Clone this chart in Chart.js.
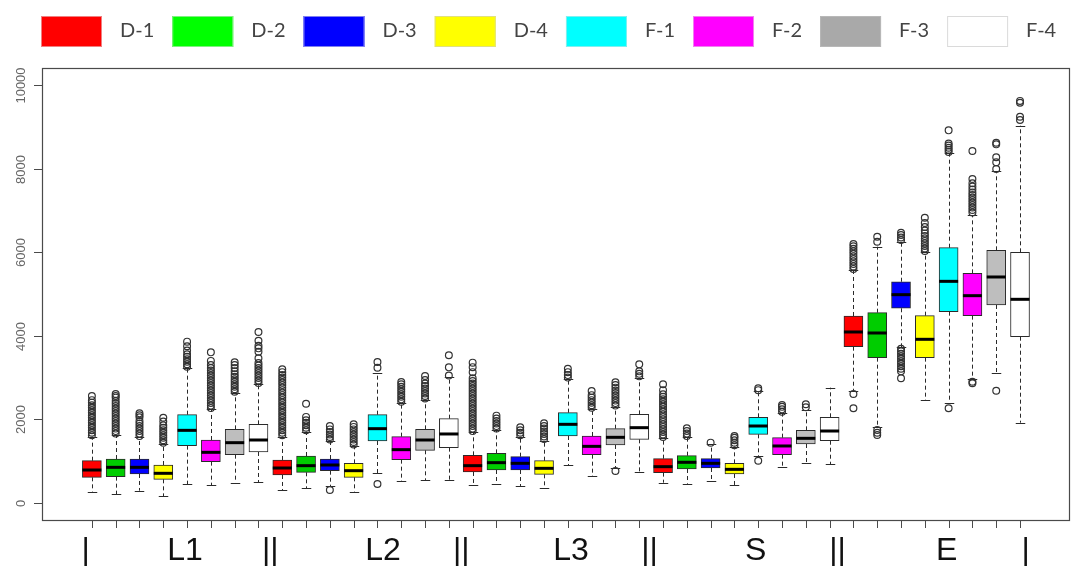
<!DOCTYPE html>
<html>
<head>
<meta charset="utf-8">
<script src="https://cdn.jsdelivr.net/npm/chart.js@4.4.1/dist/chart.umd.min.js"></script>
<style>
  html, body { margin: 0; padding: 0; background: #ffffff; overflow: hidden; }
  canvas { display: block; }
</style>
</head>
<body>
<canvas id="chart" width="1074" height="566"></canvas>
<script>
// ---- data -------------------------------------------------------------
const groups = ['L1', 'L2', 'L3', 'S', 'E'];
const series = ['D-1', 'D-2', 'D-3', 'D-4', 'F-1', 'F-2', 'F-3', 'F-4'];
const yTicks = [0, 2000, 4000, 6000, 8000, 10000];

// five-number summaries, one entry per box (group by group, series order)
const lowerWhisker = [
  270, 215, 295, 167, 447, 423, 486, 502,
  311, 351, 407, 270, 710, 519, 550, 550,
  423, 447, 407, 351, 909, 638, 829, 742,
  486, 462, 526, 423, 1124, 869, 949, 925,
  2687, 1826, 3725, 2464, 2400, 2967, 3102, 1921
];
const q1 = [
  614, 630, 694, 566, 1372, 989, 1156, 1220,
  670, 734, 773, 614, 1483, 1037, 1260, 1324,
  742, 789, 789, 686, 1603, 1156, 1388, 1523,
  726, 813, 837, 694, 1643, 1156, 1411, 1490,
  3739, 3477, 4658, 3477, 4577, 4482, 4737, 3978
];
const median = [
  789, 853, 853, 710, 1738, 1212, 1443, 1507,
  837, 893, 909, 773, 1778, 1276, 1507, 1651,
  893, 965, 949, 829, 1882, 1355, 1571, 1802,
  869, 973, 949, 805, 1842, 1364, 1547, 1722,
  4091, 4067, 4984, 3916, 5303, 4960, 5407, 4873
];
const q3 = [
  1012, 1052, 1052, 909, 2113, 1507, 1762, 1882,
  1029, 1124, 1052, 949, 2113, 1587, 1762, 2018,
  1140, 1188, 1108, 1012, 2161, 1603, 1778, 2121,
  1061, 1132, 1061, 949, 2050, 1563, 1738, 2050,
  4474, 4553, 5294, 4482, 6108, 5494, 6045, 5997
];
const upperWhisker = [
  1587, 1627, 1571, 1404, 3222, 2241, 2624, 2839,
  1587, 1706, 1490, 1371, 3102, 2384, 2464, 3006,
  1690, 1746, 1571, 1491, 2959, 2241, 2289, 2983,
  1547, 1571, 1404, 1347, 2672, 2146, 2225, 2759,
  5574, 6132, 6252, 5997, 8373, 6890, 7943, 9026
];
const outliers = [
  // L1
  [1620, 1680, 1740, 1800, 1860, 1920, 1980, 2040, 2100, 2160, 2220, 2280, 2340, 2400, 2460, 2560],
  [1660, 1720, 1780, 1840, 1900, 1960, 2020, 2080, 2140, 2200, 2260, 2320, 2380, 2440, 2520, 2560, 2608],
  [1600, 1660, 1720, 1780, 1840, 1900, 1960, 2050, 2100, 2145],
  [1440, 1500, 1560, 1620, 1680, 1740, 1800, 1860, 1950, 2041],
  [3260, 3320, 3380, 3440, 3500, 3560, 3650, 3750, 3860],
  [2270, 2330, 2390, 2450, 2510, 2570, 2630, 2690, 2750, 2810, 2870, 2930, 2990, 3050, 3110, 3170, 3230, 3300, 3400, 3604],
  [2660, 2720, 2780, 2840, 2900, 2960, 3020, 3080, 3150, 3230, 3300, 3365],
  [2870, 2930, 2990, 3050, 3110, 3170, 3230, 3290, 3350, 3461, 3620, 3700, 3760, 3883, 4091],
  // L2
  [1620, 1680, 1740, 1800, 1860, 1920, 1980, 2040, 2100, 2160, 2220, 2280, 2340, 2400, 2460, 2520, 2580, 2640, 2700, 2760, 2820, 2880, 2940, 3000, 3060, 3130, 3198],
  [1740, 1800, 1860, 1920, 1980, 2060, 2376],
  [311, 1520, 1580, 1640, 1700, 1760, 1842],
  [1400, 1460, 1520, 1580, 1640, 1700, 1760, 1820, 1882],
  [454, 3237, 3373],
  [2420, 2480, 2540, 2600, 2660, 2720, 2780, 2840, 2895],
  [2500, 2560, 2620, 2680, 2740, 2800, 2860, 2940, 3038],
  [3050, 3245, 3533],
  // L3
  [1720, 1780, 1840, 1900, 1960, 2020, 2080, 2140, 2200, 2260, 2320, 2380, 2440, 2500, 2560, 2620, 2680, 2740, 2800, 2860, 2920, 2983, 3130, 3250, 3357],
  [1780, 1840, 1900, 1960, 2020, 2090],
  [1620, 1680, 1740, 1810],
  [1530, 1590, 1650, 1710, 1780, 1840, 1906],
  [3000, 3060, 3130, 3213],
  [2280, 2340, 2400, 2460, 2520, 2580, 2679],
  [765, 2330, 2390, 2450, 2510, 2570, 2630, 2690, 2760, 2820, 2887],
  [3030, 3090, 3150, 3317],
  // S
  [1580, 1640, 1700, 1760, 1820, 1880, 1940, 2000, 2060, 2120, 2180, 2240, 2300, 2360, 2420, 2480, 2540, 2600, 2700, 2839],
  [1600, 1660, 1720, 1786],
  [1443],
  [1380, 1440, 1500, 1560, 1603],
  [1012, 2700, 2744],
  [2180, 2240, 2300, 2344],
  [2290, 2361],
  [],
  // E
  [2265, 2608, 5600, 5660, 5720, 5780, 5840, 5900, 5960, 6020, 6080, 6140, 6196],
  [1627, 1680, 1746, 6250, 6371],
  [2983, 3150, 3210, 3270, 3330, 3390, 3450, 3510, 3570, 3630, 3690, 6290, 6350, 6410, 6467],
  [6030, 6090, 6150, 6210, 6270, 6330, 6390, 6450, 6520, 6600, 6700, 6826],
  [2265, 8400, 8450, 8500, 8550, 8600, 8915],
  [2864, 2900, 6950, 7010, 7070, 7130, 7190, 7250, 7310, 7370, 7430, 7500, 7570, 7650, 7750, 8421],
  [2687, 7990, 8150, 8270, 8580, 8620],
  [9163, 9242, 9577, 9620]
];

// ---- styling ----------------------------------------------------------
const boxFill = ['#FF0000', '#00CD00', '#0000FF', '#FFFF00', '#00FFFF', '#FF00FF', '#BEBEBE', '#FFFFFF'];
const legendFill = ['#FF0000', '#00FF00', '#0000FF', '#FFFF00', '#00FFFF', '#FF00FF', '#A9A9A9', '#FFFFFF'];
const legendEdge = ['#F08080', '#80F080', '#8080F0', '#E0E080', '#80F0F0', '#F080F0', '#B8B8B8', '#DADADA'];
const INK = '#2a2a2a';
const AXIS = '#4a4a4a';
const BOX_PX = 19;

const nBox = groups.length * series.length;
const boxData = [];
const boxColors = [];
const outlierPoints = [];
for (let i = 0; i < nBox; i++) {
  boxData.push({ x: i + 1, y: [q1[i], q3[i]] });
  boxColors.push(boxFill[i % series.length]);
  outliers[i].forEach(v => outlierPoints.push({ x: i + 1, y: v }));
}

// group captions along the bottom, placed in box-index units
const groupCaptions = [
  { text: '|', at: 0.74 },
  { text: groups[0], at: 4.91 },
  { text: '||', at: 8.5 },
  { text: groups[1], at: 13.23 },
  { text: '||', at: 16.52 },
  { text: groups[2], at: 21.13 },
  { text: '||', at: 24.43 },
  { text: groups[3], at: 28.89 },
  { text: '||', at: 32.33 },
  { text: groups[4], at: 36.92 },
  { text: '|', at: 40.24 }
];

// whiskers behind the boxes, medians on top, frame/axes/legend last
const boxplotParts = {
  id: 'boxplotParts',
  beforeDatasetsDraw(chart) {
    const { ctx, scales: { x, y } } = chart;
    ctx.save();
    ctx.strokeStyle = INK;
    ctx.lineWidth = 1;
    for (let i = 0; i < nBox; i++) {
      const px = Math.round(x.getPixelForValue(i + 1)) + 0.5;
      const yLo = y.getPixelForValue(lowerWhisker[i]);
      const yQ1 = y.getPixelForValue(q1[i]);
      const yQ3 = y.getPixelForValue(q3[i]);
      const yHi = y.getPixelForValue(upperWhisker[i]);
      ctx.setLineDash([4, 3]);
      ctx.beginPath();
      ctx.moveTo(px, yQ3); ctx.lineTo(px, yHi);
      ctx.moveTo(px, yQ1); ctx.lineTo(px, yLo);
      ctx.stroke();
      ctx.setLineDash([]);
      ctx.beginPath();
      const half = BOX_PX / 4;
      ctx.moveTo(px - half, Math.round(yHi) + 0.5); ctx.lineTo(px + half, Math.round(yHi) + 0.5);
      ctx.moveTo(px - half, Math.round(yLo) + 0.5); ctx.lineTo(px + half, Math.round(yLo) + 0.5);
      ctx.stroke();
    }
    ctx.restore();
  },
  afterDatasetsDraw(chart) {
    const { ctx, scales: { x, y } } = chart;
    ctx.save();
    ctx.strokeStyle = '#000000';
    ctx.lineWidth = 3;
    for (let i = 0; i < nBox; i++) {
      const px = x.getPixelForValue(i + 1);
      const py = y.getPixelForValue(median[i]);
      ctx.beginPath();
      ctx.moveTo(px - BOX_PX / 2, py); ctx.lineTo(px + BOX_PX / 2, py);
      ctx.stroke();
    }
    ctx.restore();
  },
  afterDraw(chart) {
    const { ctx, chartArea: a, scales: { x, y } } = chart;
    ctx.save();
    // frame
    ctx.strokeStyle = AXIS;
    ctx.lineWidth = 1.2;
    ctx.strokeRect(Math.round(a.left) + 0.5, Math.round(a.top) + 0.5,
                   Math.round(a.right - a.left), Math.round(a.bottom - a.top));
    // y axis ticks and rotated labels
    ctx.lineWidth = 1;
    ctx.fillStyle = '#666666';
    ctx.font = '13px "Liberation Sans", Arial, sans-serif';
    ctx.textAlign = 'center';
    ctx.textBaseline = 'alphabetic';
    yTicks.forEach(v => {
      const py = Math.round(y.getPixelForValue(v)) + 0.5;
      ctx.beginPath();
      ctx.moveTo(a.left - 8, py); ctx.lineTo(a.left, py);
      ctx.stroke();
      ctx.save();
      ctx.translate(25, py);
      ctx.rotate(-Math.PI / 2);
      ctx.fillText(String(v), 0, 0);
      ctx.restore();
    });
    // x axis ticks, one per box
    for (let i = 0; i < nBox; i++) {
      const px = Math.round(x.getPixelForValue(i + 1)) + 0.5;
      ctx.beginPath();
      ctx.moveTo(px, a.bottom); ctx.lineTo(px, a.bottom + 8);
      ctx.stroke();
    }
    // group captions
    ctx.fillStyle = '#111111';
    ctx.font = '32px "Liberation Sans", Arial, sans-serif';
    ctx.textAlign = 'center';
    groupCaptions.forEach(c => {
      ctx.fillText(c.text, x.getPixelForValue(c.at), 560);
    });
    // legend
    ctx.font = '20px "Lato", "Liberation Sans", sans-serif';
    ctx.textAlign = 'left';
    ctx.textBaseline = 'middle';
    let lx = 41;
    series.forEach((name, k) => {
      ctx.fillStyle = legendFill[k];
      ctx.fillRect(lx, 16, 61, 31);
      ctx.strokeStyle = legendEdge[k];
      ctx.lineWidth = 1;
      ctx.strokeRect(lx + 0.5, 16.5, 60, 30);
      ctx.fillStyle = '#444444';
      ctx.fillText(name, lx + 79, 31);
      lx += 79 + ctx.measureText(name).width + 18;
    });
    ctx.restore();
  }
};

new Chart(document.getElementById('chart'), {
  type: 'bar',
  data: {
    datasets: [
      {
        type: 'bar',
        label: 'boxes',
        data: boxData,
        backgroundColor: boxColors,
        borderColor: INK,
        borderWidth: 1,
        borderSkipped: false,
        barThickness: BOX_PX,
        order: 2
      },
      {
        type: 'scatter',
        label: 'outliers',
        data: outlierPoints,
        pointStyle: 'circle',
        pointRadius: 3.4,
        pointBorderWidth: 1.2,
        pointBorderColor: '#333333',
        pointBackgroundColor: 'rgba(255,255,255,0)',
        order: 1
      }
    ]
  },
  options: {
    responsive: false,
    devicePixelRatio: 1,
    animation: false,
    layout: { padding: { left: 42, top: 68, right: 3, bottom: 46 } },
    plugins: { legend: { display: false }, tooltip: { enabled: false } },
    scales: {
      x: { type: 'linear', min: -1.096, max: 42.05, offset: false, display: false },
      y: { type: 'linear', min: -407, max: 10407, display: false }
    }
  },
  plugins: [boxplotParts]
});
</script>
</body>
</html>
